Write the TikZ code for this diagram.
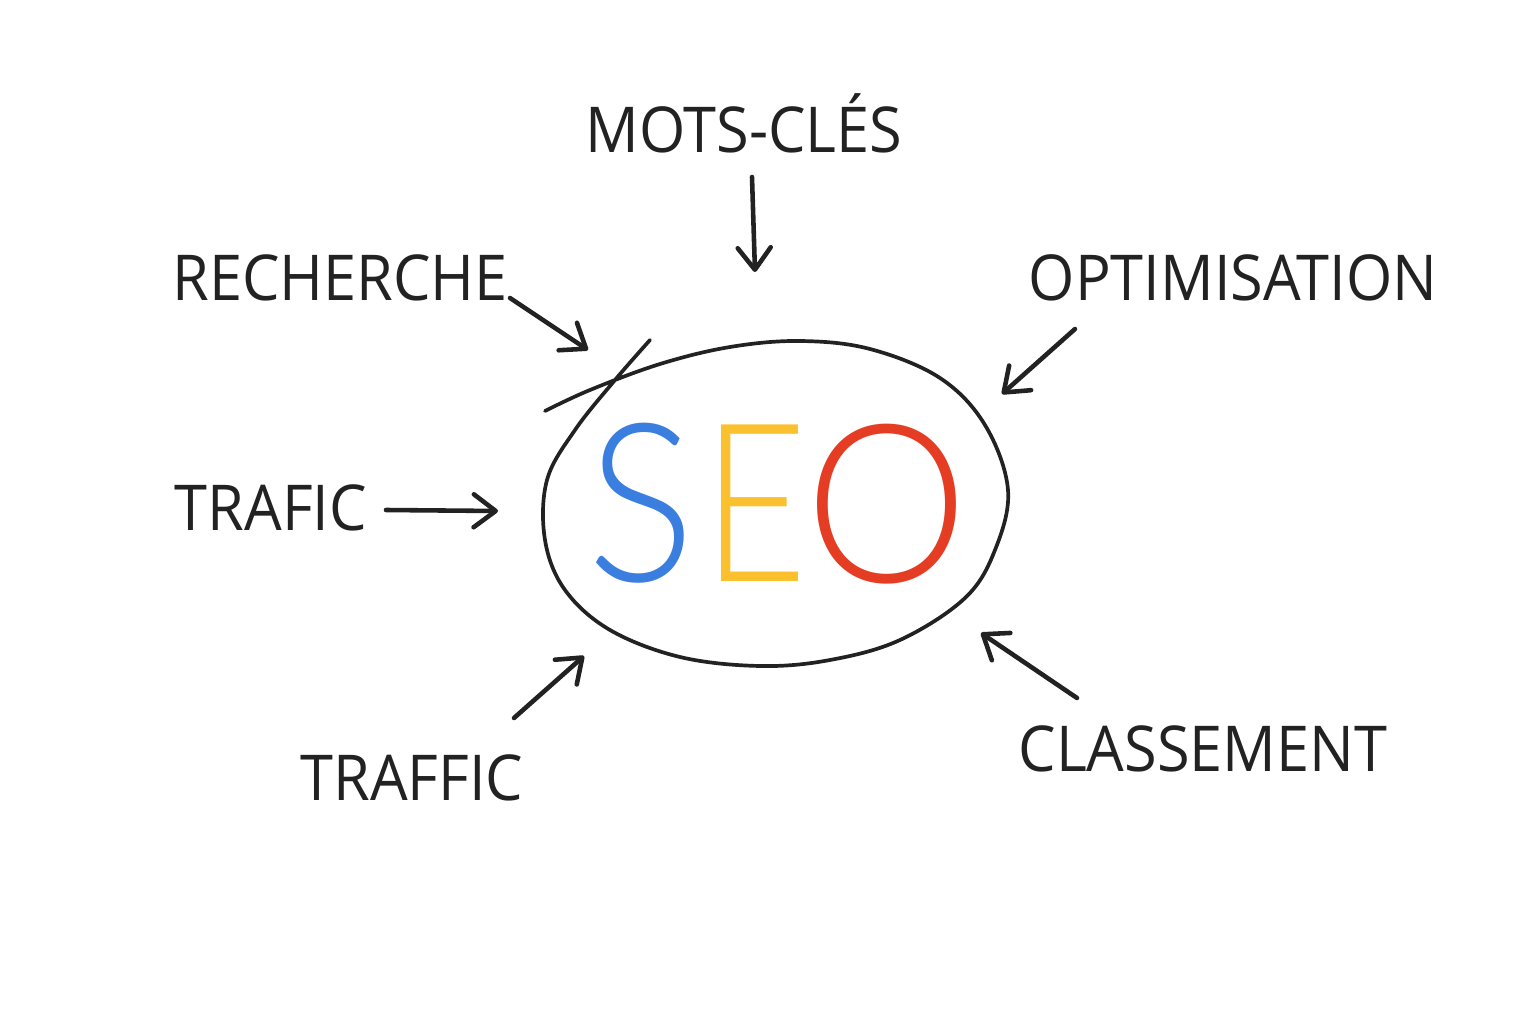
\documentclass[tikz,border=0pt]{standalone}
\usepackage{fontspec}
\setmainfont{Open Sans}
\IfFontExistsTF{Lato Light}{%
  \newfontfamily\seofont{Lato Light}\newcommand\seosize{\fontsize{126}{126}\selectfont}}{%
  \IfFontExistsTF{Open Sans Light}{%
    \newfontfamily\seofont{Open Sans Light}\newcommand\seosize{\fontsize{125}{125}\selectfont}}{%
    \newfontfamily\seofont{Carlito}\newcommand\seosize{\fontsize{139}{139}\selectfont}}}
\usetikzlibrary{arrows.meta}
\definecolor{ink}{HTML}{222222}
\definecolor{seoblue}{HTML}{3A7FE0}
\definecolor{seoyellow}{HTML}{FBC02D}
\definecolor{seored}{HTML}{E43D24}
\begin{document}
\begin{tikzpicture}[x=0.02cm,y=-0.02cm,
  lbl/.style={font=\fontsize{36}{36}\selectfont, text=ink, anchor=base, inner sep=0, xscale=0.94},
  seo/.style={font=\seofont\seosize, inner sep=0},
  arr/.style={draw=ink, line width=2.6pt, line cap=round, line join=round,
    -{Straight Barb[length=0.44cm, width=0.66cm, line width=2.6pt, round]}},
  ring/.style={draw=ink, line width=2.1pt, line cap=round, line join=round}]
\useasboundingbox[fill=white] (0,0) rectangle (1536,1024);

% labels
\node[lbl] (mots) at (744,153) {MOTS-CLÉS};
\node[lbl] (rech) at (340,300) {RECHERCHE};
\node[lbl] (opti) at (1233,300) {OPTIMISATION};
\node[lbl] (traf) at (271,530) {TRAFIC};
\node[lbl] (traff) at (412,800) {TRAFFIC};
\node[lbl] (class) at (1203,771) {CLASSEMENT};

% SEO letters
\node[seo, text=seoblue, xscale=0.91] (s) at (641.5,503) {S};
\node[seo, text=seoyellow, xscale=0.82] (e) at (755.5,503) {E};
\node[seo, text=seored, xscale=0.93] (o) at (886.5,504) {O};

% hand-drawn ring
\draw[ring] plot[smooth, tension=0.6] coordinates {
  (545,411) (590,390) (660,364) (730,347) (800,341) (870,349) (940,378)
  (985,425) (1008,490) (995,550) (965,598) (900,640) (830,660) (760,666)
  (680,657) (610,630) (565,590) (545,540) (547,480) (575,430) (615,380) (650,340)};

% arrow end points
\coordinate (m1) at (752,177);  \coordinate (m2) at (755,272);
\coordinate (r1) at (510,298);  \coordinate (r2) at (588,350);
\coordinate (o1) at (1075,329); \coordinate (o2) at (1002,394);
\coordinate (t1) at (386,510);  \coordinate (t2) at (498,511);
\coordinate (f1) at (514,718);  \coordinate (f2) at (584,656);
\coordinate (c1) at (1077,698); \coordinate (c2) at (981,633);

\draw[arr] (m1) -- (m2);
\draw[arr] (r1) -- (r2);
\draw[arr] (o1) -- (o2);
\draw[arr] (t1) -- (t2);
\draw[arr] (f1) -- (f2);
\draw[arr] (c1) -- (c2);
\end{tikzpicture}
\end{document}
